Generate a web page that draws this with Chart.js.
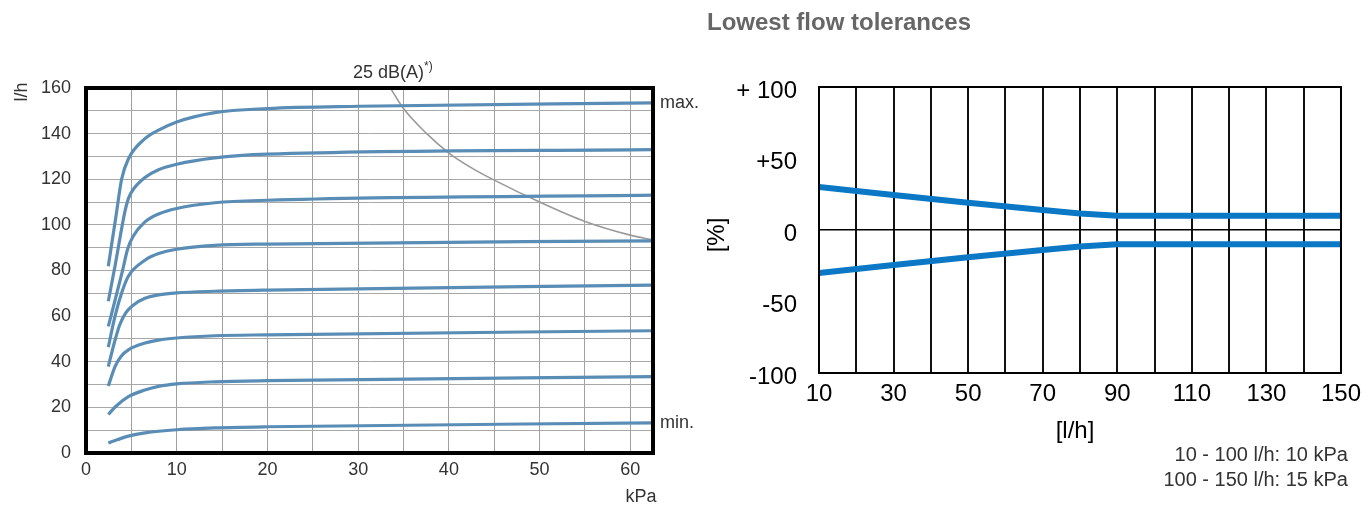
<!DOCTYPE html>
<html>
<head>
<meta charset="utf-8">
<script src="https://cdn.jsdelivr.net/npm/chart.js@4.4.1/dist/chart.umd.min.js"></script>
<style>
  body { margin: 0; background: #fff; font-family: "Liberation Sans", Arial, sans-serif; }
  #wrap { position: relative; width: 1368px; height: 506px; overflow: hidden; }
  #flowChart { position: absolute; left: 0; top: 0; }
  #tolChart { position: absolute; left: 700px; top: 0; }
  .title { position: absolute; left: 707px; top: 8px; font-weight: bold; font-size: 24px; color: #666; }
  .note { position: absolute; right: 20px; top: 442px; font-size: 20px; line-height: 25px; text-align: right; color: #333; }
</style>
</head>
<body>
<div id="wrap">
  <canvas id="flowChart" width="720" height="506"></canvas>
  <canvas id="tolChart" width="668" height="506"></canvas>
  <div class="title">Lowest flow tolerances</div>
  <div class="note">10 - 100 l/h: 10 kPa<br>100 - 150 l/h: 15 kPa</div>
</div>
<script>
// left chart: flow [l/h] against pressure [kPa], points as [kPa, l/h]
const curveMax = [[2.46,81.9],[3.3,103.7],[3.93,120.1],[4.67,128.9],[6.5,137.8],[8,141.5],[10,145.1],[14.2,149.2],[20,151],[30,152],[62.5,153.5]]
const curve2 = [[2.46,66.5],[3.2,82],[4.3,106],[4.67,111.5],[5.2,115.5],[6.5,120.8],[8,124.2],[10,126.6],[14.2,129.4],[20,131],[62.5,133]]
const curve3 = [[2.46,55.5],[4.0,79.5],[4.6,89.5],[5.2,95],[6.5,101.3],[8,104.8],[10,107.2],[14.2,109.7],[20,110.8],[62.5,113]]
const curve4 = [[2.46,46.4],[3.2,60],[4,71],[4.67,77.5],[6.5,84.5],[8,87.4],[10,89.3],[14.2,91],[20,91.6],[62.5,93]]
const curve5 = [[2.46,37.9],[3.1,48],[3.7,56],[4.4,61.5],[5.2,64.8],[6.5,67.8],[8,69.3],[10,70.2],[14.2,70.9],[20,71.4],[62.5,73.6]]
const curve6 = [[2.46,29.4],[3.2,37.9],[3.9,42.5],[4.67,45.2],[6.5,48.2],[8,49.5],[10,50.4],[14.2,51.4],[20,51.8],[62.5,53.6]]
const curve7 = [[2.46,16.9],[3.3,20.5],[4.67,24.7],[6.5,27.6],[8,29.2],[10,30.3],[14.2,31.2],[20,31.7],[62.5,33.5]]
const curveMin = [[2.46,4.4],[3.5,5.9],[4.67,7.4],[6.5,8.8],[10,10.2],[14.2,11.0],[20,11.5],[62.5,13.2]]
const noise25 = [[33.4,161],[35,151],[37.5,140.2],[40,131.5],[42.5,125],[45,119.6],[50,110],[55,101.5],[60,95.5],[62.5,93.4]]

const kpaGrid = [0,5,10,15,20,25,30,35,40,45,50,55,60]
const kpaLabels = [0,10,20,30,40,50,60]
const flowGrid = [0,10,20,30,40,50,60,70,80,90,100,110,120,130,140,150,160]
const flowLabels = [0,20,40,60,80,100,120,140,160]

// right chart: tolerance [%] against flow [l/h]
const flowRates = [10,30,50,70,80,90,150]
const upperTol = [30,24.5,19,14,11.5,10,10]
const lowerTol = [-30,-24.5,-19,-14,-11.5,-10,-10]
const rateGrid = [10,20,30,40,50,60,70,80,90,100,110,120,130,140,150]
const rateLabels = [10,30,50,70,90,110,130,150]
const tolTicks = [100,50,0,-50,-100]
const tolLabels = ['+ 100','+50','0','-50','-100']

const FONT = '"Liberation Sans", Arial, sans-serif'
const toXY = (pts) => pts.map(p => ({ x: p[0], y: p[1] }))
const blue = '#5a8db6'

const flowCurves = [curveMax, curve2, curve3, curve4, curve5, curve6, curve7, curveMin]

const flowText = {
  id: 'flowText',
  afterDraw(chart) {
    const { ctx, chartArea: a, scales: { y } } = chart
    ctx.save()
    ctx.strokeStyle = '#000'
    ctx.lineWidth = 4
    ctx.strokeRect(a.left, a.top, a.right - a.left, a.bottom - a.top)

    ctx.fillStyle = '#333'
    ctx.font = '18px ' + FONT
    ctx.textBaseline = 'middle'
    ctx.textAlign = 'left'
    ctx.fillText('max.', a.right + 7, y.getPixelForValue(curveMax[curveMax.length - 1][1]))
    ctx.fillText('min.', a.right + 7, y.getPixelForValue(curveMin[curveMin.length - 1][1]))

    ctx.textAlign = 'center'
    ctx.fillText('kPa', a.right - 12, 497)

    ctx.textAlign = 'right'
    ctx.fillText('25 dB(A)', 424, 73)
    ctx.font = '12px ' + FONT
    ctx.textAlign = 'left'
    ctx.fillText('*)', 424, 67)

    ctx.font = '18px ' + FONT
    ctx.translate(22, 92)
    ctx.rotate(-Math.PI / 2)
    ctx.textAlign = 'center'
    ctx.fillText('l/h', 0, 0)
    ctx.restore()
  }
}

new Chart(document.getElementById('flowChart'), {
  type: 'line',
  data: {
    datasets: [
      ...flowCurves.map(c => ({
        data: toXY(c),
        borderColor: blue,
        borderWidth: 3.2,
        pointRadius: 0,
        cubicInterpolationMode: 'monotone'
      })),
      {
        data: toXY(noise25),
        borderColor: '#9a9a9a',
        borderWidth: 1.6,
        pointRadius: 0,
        cubicInterpolationMode: 'monotone'
      }
    ]
  },
  options: {
    responsive: false,
    animation: false,
    layout: { padding: { top: 88, right: 67, left: 0, bottom: 0 } },
    plugins: { legend: { display: false }, tooltip: { enabled: false } },
    scales: {
      x: {
        type: 'linear',
        min: 0,
        max: 62.5,
        afterBuildTicks: (s) => { s.ticks = kpaGrid.map(v => ({ value: v })) },
        afterFit: (s) => { s.height = 53 },
        grid: { color: '#a0a0a0', lineWidth: 1, drawTicks: false },
        border: { display: false },
        ticks: {
          padding: 6,
          color: '#333',
          font: { family: FONT, size: 18 },
          maxRotation: 0,
          autoSkip: false,
          callback: (v) => kpaLabels.includes(v) ? String(v) : ''
        }
      },
      y: {
        min: 0,
        max: 160,
        afterBuildTicks: (s) => { s.ticks = flowGrid.map(v => ({ value: v })) },
        afterFit: (s) => { s.width = 86 },
        grid: { color: '#a8a8a8', lineWidth: 1, drawTicks: false },
        border: { display: false },
        ticks: {
          padding: 15,
          color: '#333',
          font: { family: FONT, size: 18 },
          autoSkip: false,
          callback: (v) => flowLabels.includes(v) ? String(v) : ''
        }
      }
    }
  },
  plugins: [flowText]
})

const tolText = {
  id: 'tolText',
  afterDraw(chart) {
    const { ctx, chartArea: a } = chart
    ctx.save()
    ctx.strokeStyle = '#000'
    ctx.lineWidth = 2
    ctx.strokeRect(a.left, a.top, a.right - a.left, a.bottom - a.top)
    ctx.fillStyle = '#000'
    ctx.font = '24px ' + FONT
    ctx.textAlign = 'center'
    ctx.textBaseline = 'middle'
    ctx.fillText('[l/h]', (a.left + a.right) / 2 - 5, 431)
    ctx.translate(17, 235)
    ctx.rotate(-Math.PI / 2)
    ctx.fillText('[%]', 0, 0)
    ctx.restore()
  }
}

new Chart(document.getElementById('tolChart'), {
  type: 'line',
  data: {
    labels: flowRates,
    datasets: [upperTol, lowerTol].map(d => ({
      data: d,
      borderColor: '#0a78c4',
      borderWidth: 6,
      pointRadius: 0,
      tension: 0
    }))
  },
  options: {
    responsive: false,
    animation: false,
    layout: { padding: { top: 87, right: 20, left: 0, bottom: 0 } },
    plugins: { legend: { display: false }, tooltip: { enabled: false } },
    scales: {
      x: {
        type: 'linear',
        min: 10,
        max: 150,
        afterBuildTicks: (s) => { s.ticks = rateGrid.map(v => ({ value: v })) },
        afterFit: (s) => { s.height = 133 },
        grid: { color: '#111', lineWidth: 2, drawTicks: false },
        border: { display: false },
        ticks: {
          padding: 7,
          color: '#000',
          font: { family: FONT, size: 24 },
          maxRotation: 0,
          autoSkip: false,
          callback: (v) => rateLabels.includes(v) ? String(v) : ''
        }
      },
      y: {
        min: -100,
        max: 100,
        afterBuildTicks: (s) => { s.ticks = tolTicks.map(v => ({ value: v })) },
        afterFit: (s) => { s.width = 119 },
        grid: {
          color: (c) => c.tick && c.tick.value === 0 ? '#000' : 'rgba(0,0,0,0)',
          lineWidth: 1.5,
          drawTicks: false
        },
        border: { display: false },
        ticks: {
          padding: 22,
          labelOffset: 4,
          color: '#000',
          font: { family: FONT, size: 24 },
          autoSkip: false,
          callback: (v) => tolLabels[tolTicks.indexOf(v)]
        }
      }
    }
  },
  plugins: [tolText]
})
</script>
</body>
</html>
